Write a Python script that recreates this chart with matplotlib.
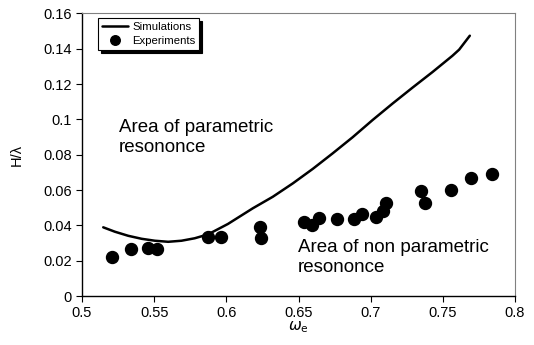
import matplotlib
matplotlib.use("Agg")
import matplotlib.pyplot as plt

plt.rcParams['font.family'] = ['Liberation Sans', 'DejaVu Sans']

# simulation curve
sim_w = [0.5147, 0.5228, 0.532, 0.5413, 0.5505, 0.5597, 0.5689, 0.5781, 0.5873,
         0.6011, 0.6184, 0.6322, 0.6461, 0.6599, 0.6737, 0.6875, 0.7014, 0.7152,
         0.729, 0.7428, 0.7566, 0.7613, 0.7687]
sim_h = [0.0389, 0.0364, 0.0341, 0.0324, 0.0313, 0.0307, 0.0313, 0.0327, 0.0349,
         0.0408, 0.0497, 0.0562, 0.0638, 0.0720, 0.0808, 0.0899, 0.0997, 0.1090,
         0.1180, 0.1268, 0.1360, 0.1395, 0.1474]

# experimental points
exp_w = [0.5205, 0.5337, 0.5459, 0.552, 0.5876, 0.596, 0.6233, 0.624,
         0.6537, 0.6592, 0.6645, 0.6767, 0.6887, 0.694, 0.7034, 0.7088,
         0.7108, 0.7346, 0.7376, 0.756, 0.7693, 0.7839]
exp_h = [0.0219, 0.0264, 0.0274, 0.0266, 0.0334, 0.0332, 0.0392, 0.0328,
         0.0417, 0.0402, 0.0443, 0.0436, 0.0436, 0.0464, 0.0447, 0.0479,
         0.0528, 0.0596, 0.0527, 0.0600, 0.0668, 0.0691]

xticks = [0.5, 0.55, 0.6, 0.65, 0.7, 0.75, 0.8]
xticklabels = ['0.5', '0.55', '0.6', '0.65', '0.7', '0.75', '0.8']
yticks = [0, 0.02, 0.04, 0.06, 0.08, 0.1, 0.12, 0.14, 0.16]
yticklabels = ['0', '0.02', '0.04', '0.06', '0.08', '0.1', '0.12', '0.14', '0.16']

fig = plt.figure(figsize=(5.34, 3.45), dpi=100)
ax = fig.add_axes([0.1536, 0.142, 0.8108, 0.819])

ax.plot(sim_w, sim_h, color='black', lw=1.8, solid_joinstyle='round',
        solid_capstyle='round', label='Simulations')
ax.plot(exp_w, exp_h, 'o', color='black', ms=8.6, ls='none', label='Experiments')

ax.set_xlim(0.5, 0.8)
ax.set_ylim(0, 0.16)
ax.set_xticks(xticks)
ax.set_xticklabels(xticklabels)
ax.set_yticks(yticks)
ax.set_yticklabels(yticklabels)
ax.tick_params(direction='out', length=4, width=0.8, labelsize=10.5, colors='black')
ax.spines['top'].set_color('#808080')
ax.spines['right'].set_color('#808080')
for s in ['left', 'bottom']:
    ax.spines[s].set_linewidth(1.0)

ax.set_xlabel(r'$\omega_{\mathrm{e}}$', fontsize=11, labelpad=-1)
ax.set_ylabel('H/λ', fontsize=10.5, labelpad=14)

ax.text(0.5255, 0.1005, 'Area of parametric\nresononce', fontsize=13.5,
        va='top', ha='left', linespacing=1.25)
ax.text(0.6495, 0.0325, 'Area of non parametric\nresononce', fontsize=13.5,
        va='top', ha='left', linespacing=1.25)

leg = ax.legend(loc='upper left', bbox_to_anchor=(0.037, 0.983), fontsize=8.2,
                frameon=True, fancybox=False,
                shadow={'color': 'black', 'alpha': 1},
                edgecolor='black', handlelength=2.3, handletextpad=0.35,
                borderpad=0.35, labelspacing=0.35, markerscale=0.8, borderaxespad=0)
leg.get_frame().set_linewidth(0.8)

fig.savefig('out.png', dpi=100)
